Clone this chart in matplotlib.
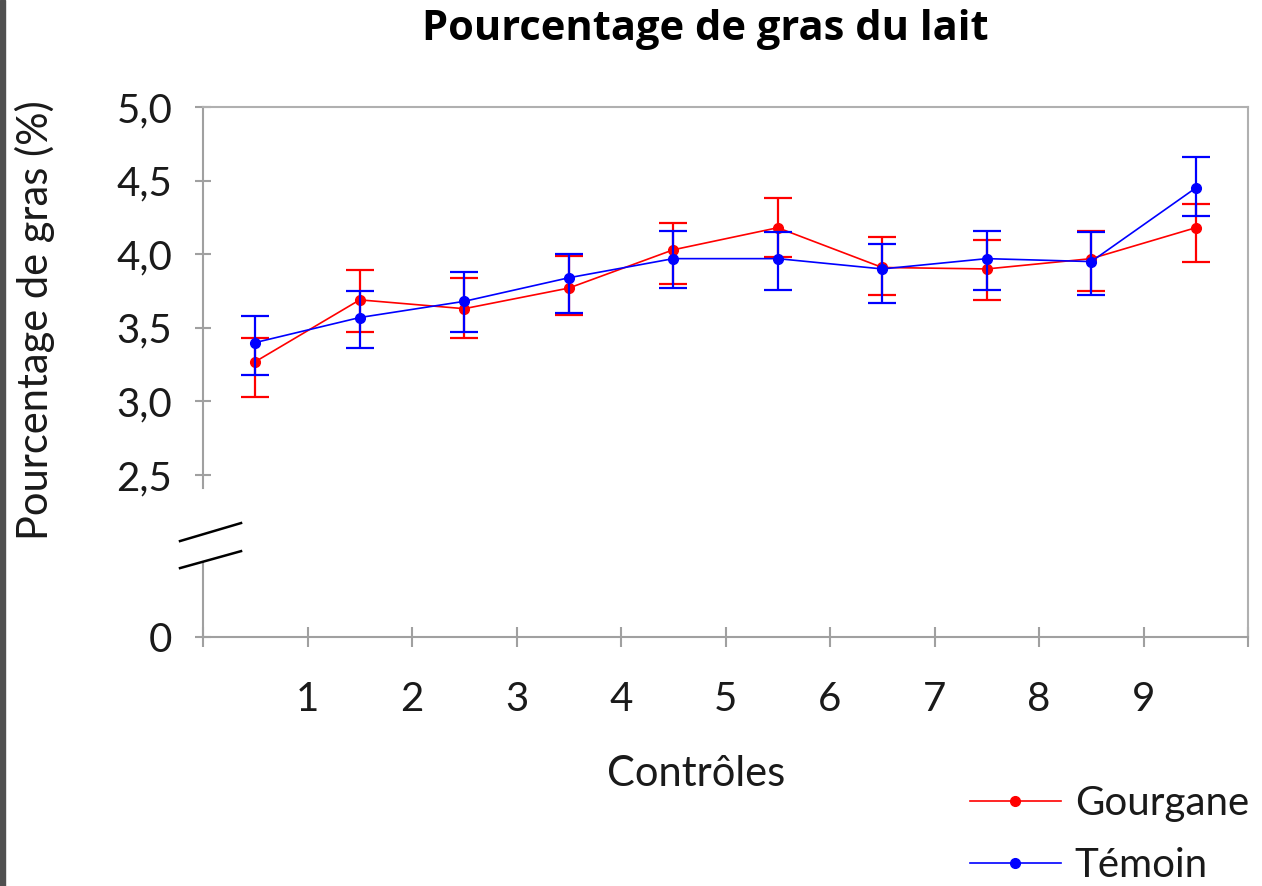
import numpy as np
import matplotlib
matplotlib.use("Agg")
import matplotlib.pyplot as plt
from matplotlib.ticker import FixedLocator, FuncFormatter
from matplotlib.patches import Rectangle

# Data
controles = ["1", "2", "3", "4", "5", "6", "7", "8", "9"]
gourgane = [3.27, 3.69, 3.63, 3.77, 4.03, 4.18, 3.91, 3.90, 3.97, 4.18]
gourgane_err_lo = [0.24, 0.22, 0.20, 0.18, 0.23, 0.20, 0.19, 0.21, 0.22, 0.23]
gourgane_err_hi = [0.16, 0.20, 0.21, 0.22, 0.18, 0.20, 0.21, 0.20, 0.19, 0.16]
temoin = [3.40, 3.57, 3.68, 3.84, 3.97, 3.97, 3.90, 3.97, 3.95, 4.45]
temoin_err_lo = [0.22, 0.21, 0.21, 0.24, 0.20, 0.21, 0.23, 0.21, 0.23, 0.19]
temoin_err_hi = [0.18, 0.18, 0.20, 0.16, 0.19, 0.18, 0.17, 0.19, 0.20, 0.21]
y_ticks = [0, 2.5, 3.0, 3.5, 4.0, 4.5, 5.0]

FONT = "Lato"
GRID_GREY = "#a0a0a0"
TXT = "#1a1a1a"


# broken y axis: 0..2.5 squeezed into a short band under 2.5
def fwd(v):
    v = np.asarray(v, dtype=float)
    return np.where(v >= 2.5, v, 1.4 + v * (1.1 / 2.5))


def inv(v):
    v = np.asarray(v, dtype=float)
    return np.where(v >= 2.5, v, (v - 1.4) * (2.5 / 1.1))


fig = plt.figure(figsize=(12.62, 8.86), dpi=100)
ax = fig.add_axes([203 / 1262, 1 - 637 / 886, 1045 / 1262, 530 / 886])

x = np.arange(len(gourgane)) + 0.5

ax.errorbar(x, gourgane, yerr=[gourgane_err_lo, gourgane_err_hi], color="#ff0000",
            lw=1.2, marker="o", ms=7, elinewidth=1.6, capsize=10, capthick=1.6,
            label="Gourgane", zorder=3)
ax.errorbar(x, temoin, yerr=[temoin_err_lo, temoin_err_hi], color="#0000ff",
            lw=1.2, marker="o", ms=7, elinewidth=1.6, capsize=10, capthick=1.6,
            label="Témoin", zorder=4)

ax.set_yscale("function", functions=(fwd, inv))
ax.set_ylim(0, 5.0)
ax.set_xlim(0, 10)

ax.yaxis.set_major_locator(FixedLocator(y_ticks))
ax.yaxis.set_minor_locator(FixedLocator([]))
ax.yaxis.set_major_formatter(FuncFormatter(lambda v, p: ("%.1f" % v).replace(".", ",") if v > 0 else "0"))

ax.set_xticks(range(0, 11))
ax.set_xticklabels([""] + controles + [""])

ax.tick_params(axis="y", direction="inout", length=12, width=1.5, color=GRID_GREY,
               labelsize=29, pad=16)
ax.tick_params(axis="x", direction="inout", length=15, width=1.5, color=GRID_GREY,
               labelsize=29, pad=24)
for lab in ax.get_xticklabels() + ax.get_yticklabels():
    lab.set_fontfamily(FONT)
    lab.set_color(TXT)

for s in ["top", "right"]:
    ax.spines[s].set_color("#b0b0b0")
    ax.spines[s].set_linewidth(1.5)
for s in ["left", "bottom"]:
    ax.spines[s].set_color(GRID_GREY)
    ax.spines[s].set_linewidth(1.5)

# break in the left spine
ax.spines["left"].set_bounds(fwd(2.06), 5.0)
ax.plot([0, 0], [0, 0.1415], transform=ax.transAxes, color=GRID_GREY, lw=1.5,
        clip_on=False, zorder=2)
for y0, y1 in [(0.181, 0.215), (0.130, 0.162)]:
    ax.plot([-0.022, 0.0364], [y0, y1], transform=ax.transAxes, color="black",
            lw=1.8, clip_on=False, zorder=5)

ax.set_ylabel("Pourcentage de gras (%)", fontsize=30, fontfamily=FONT, color=TXT)
ax.yaxis.set_label_coords(-0.142, 0.598)
ax.set_xlabel("Contrôles", fontsize=30, fontfamily=FONT, color=TXT)
ax.xaxis.set_label_coords(0.472, -0.222)

fig.text(705 / 1262, 1 - 30 / 886, "Pourcentage de gras du lait", ha="center",
         va="center", fontsize=30, fontweight="bold", fontfamily="Open Sans")

handles, labels = ax.get_legend_handles_labels()
handles = [h[0] for h in handles]
leg = fig.legend(handles, labels, loc="upper left", bbox_to_anchor=(970 / 1262, 1 - 785 / 886),
                 frameon=False, borderpad=0, borderaxespad=0, handlelength=2.25,
                 handletextpad=0.35, labelspacing=0.62,
                 prop={"family": FONT, "size": 29})
for t in leg.get_texts():
    t.set_color(TXT)

# dark edge on the left of the screenshot
fig.add_artist(Rectangle((0, 0), 5 / 1262, 1, transform=fig.transFigure,
                         color="#505050", zorder=0))

fig.savefig("out.png", dpi=100)
